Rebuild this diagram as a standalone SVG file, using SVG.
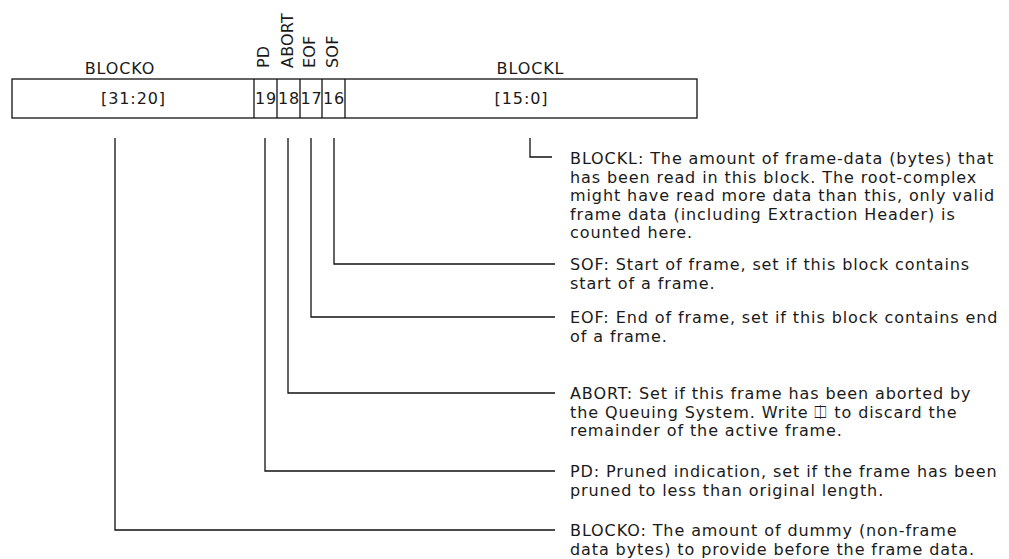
<svg xmlns="http://www.w3.org/2000/svg" width="1009" height="559" viewBox="0 0 1009 559">
<style>
text{font-family:"DejaVu Sans",Verdana,sans-serif;font-size:16px;letter-spacing:0.9px;fill:#1a1a1a}
.rot{letter-spacing:0.2px}
.box{fill:none;stroke:#111;stroke-width:1.3}
.conn{fill:none;stroke:#111;stroke-width:1.3}
.mid{text-anchor:middle}
.sym{font-family:"DejaVu Sans","DejaVu Sans Mono",sans-serif}
</style>
<rect width="1009" height="559" fill="#fff"/>
<g id="register">
<rect class="box" x="12" y="79" width="685" height="39"/>
<line class="box" x1="254" y1="79" x2="254" y2="118"/>
<line class="box" x1="277" y1="79" x2="277" y2="118"/>
<line class="box" x1="300" y1="79" x2="300" y2="118"/>
<line class="box" x1="322" y1="79" x2="322" y2="118"/>
<line class="box" x1="345" y1="79" x2="345" y2="118"/>
</g>
<g id="field-blocko">
<text class="mid" x="120" y="74">BLOCKO</text>
<text class="mid" x="133.5" y="104">[31:20]</text>
</g>
<g id="field-pd">
<text class="rot" transform="translate(269,68) rotate(-90)">PD</text>
<text class="mid" x="266" y="104">19</text>
</g>
<g id="field-abort">
<text class="rot" transform="translate(292.5,68) rotate(-90)">ABORT</text>
<text class="mid" x="289" y="104">18</text>
</g>
<g id="field-eof">
<text class="rot" transform="translate(315,68) rotate(-90)">EOF</text>
<text class="mid" x="311.5" y="104">17</text>
</g>
<g id="field-sof">
<text class="rot" transform="translate(338,68) rotate(-90)">SOF</text>
<text class="mid" x="334" y="104">16</text>
</g>
<g id="field-blockl">
<text class="mid" x="530.5" y="74">BLOCKL</text>
<text class="mid" x="521.5" y="104">[15:0]</text>
</g>
<g id="connectors">
<polyline class="conn" points="530,138 530,157 552,157"/>
<polyline class="conn" points="334,138 334,264 555,264"/>
<polyline class="conn" points="311,138 311,317 555,317"/>
<polyline class="conn" points="288,138 288,393 555,393"/>
<polyline class="conn" points="265,138 265,471 555,471"/>
<polyline class="conn" points="115,138 115,530 555,530"/>
</g>
<g id="desc-blockl">
<text x="570" y="164">BLOCKL: The amount of frame-data (bytes) that</text>
<text x="570" y="182.5">has been read in this block. The root-complex</text>
<text x="570" y="201">might have read more data than this, only valid</text>
<text x="570" y="219.5">frame data (including Extraction Header) is</text>
<text x="570" y="238">counted here.</text>
</g>
<g id="desc-sof">
<text x="570" y="270">SOF: Start of frame, set if this block contains</text>
<text x="570" y="288.5">start of a frame.</text>
</g>
<g id="desc-eof">
<text x="570" y="323">EOF: End of frame, set if this block contains end</text>
<text x="570" y="341.5">of a frame.</text>
</g>
<g id="desc-abort">
<text x="570" y="399">ABORT: Set if this frame has been aborted by</text>
<text x="570" y="417.5">the Queuing System. Write <tspan class="sym">⎅</tspan> to discard the</text>
<text x="570" y="436">remainder of the active frame.</text>
</g>
<g id="desc-pd">
<text x="570" y="477">PD: Pruned indication, set if the frame has been</text>
<text x="570" y="495.5">pruned to less than original length.</text>
</g>
<g id="desc-blocko">
<text x="570" y="536">BLOCKO: The amount of dummy (non-frame</text>
<text x="570" y="554.5">data bytes) to provide before the frame data.</text>
</g>
</svg>
